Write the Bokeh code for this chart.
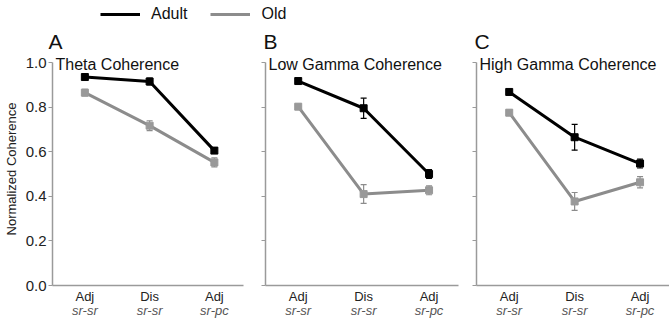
from bokeh.plotting import figure
from bokeh.models import (Range1d, LinearAxis, FixedTicker, PrintfTickFormatter,
                          Whisker, TeeHead, ColumnDataSource, Label, Legend)
from bokeh.layouts import column, row
from bokeh.embed import file_html
from bokeh.resources import INLINE

# ---------------- data ----------------
positions = [1, 2, 3]
cond_top = ["Adj", "Dis", "Adj"]
cond_bottom = ["sr-sr", "sr-sr", "sr-pc"]
panel_letters = ["A", "B", "C"]
panel_titles = ["Theta Coherence", "Low Gamma Coherence", "High Gamma Coherence"]
y_ticks = [0.0, 0.2, 0.4, 0.6, 0.8, 1.0]
series_names = ["Adult", "Old"]

adult_theta = [0.935, 0.915, 0.605]
adult_theta_err = [0.010, 0.015, 0.012]
old_theta = [0.865, 0.717, 0.552]
old_theta_err = [0.015, 0.022, 0.020]

adult_low = [0.917, 0.795, 0.500]
adult_low_err = [0.010, 0.045, 0.020]
old_low = [0.802, 0.410, 0.427]
old_low_err = [0.012, 0.042, 0.020]

adult_high = [0.868, 0.665, 0.547]
adult_high_err = [0.010, 0.058, 0.020]
old_high = [0.775, 0.377, 0.463]
old_high_err = [0.012, 0.040, 0.025]

FONT = "Liberation Sans"
ADULT = "#000000"
OLD = "#8c8c8c"
OLD_MARK = "#999999"
AXIS = "#9a9a9a"
Y_TOP = 1.045   # frame extends a little above 1.0 to hold the panel title
PANEL_W = [250, 210, 209]
PANEL_LEFT = [50, 15, 16]
PANEL_RIGHT = [7, 2, 0]
STRIP_H = 52


def series(p, xs, ys, errs, color, mark_color):
    src = ColumnDataSource(dict(x=xs, y=ys,
                                upper=[a + e for a, e in zip(ys, errs)],
                                lower=[a - e for a, e in zip(ys, errs)]))
    p.line("x", "y", source=src, line_color=color, line_width=3)
    p.scatter("x", "y", source=src, marker="square", size=7,
              fill_color=mark_color, line_color=mark_color)
    w = Whisker(base="x", upper="upper", lower="lower", source=src,
                line_color=color, line_width=1.2,
                upper_head=TeeHead(size=6, line_color=color, line_width=1.2),
                lower_head=TeeHead(size=6, line_color=color, line_width=1.2))
    p.add_layout(w)


def panel(i, adult, adult_err, old, old_err):
    p = figure(width=PANEL_W[i], height=320 - STRIP_H, x_range=Range1d(0.5, 3.45),
               y_range=Range1d(0, Y_TOP), output_backend="svg",
               toolbar_location=None, x_axis_type=None, y_axis_type=None,
               min_border_left=PANEL_LEFT[i], min_border_right=PANEL_RIGHT[i],
               min_border_top=0, min_border_bottom=35)
    p.outline_line_color = None

    if i == 0:
        yax = LinearAxis(ticker=FixedTicker(ticks=y_ticks),
                         formatter=PrintfTickFormatter(format="%.1f"))
    else:
        yax = LinearAxis(ticker=FixedTicker(ticks=y_ticks),
                         major_label_overrides={t: "" for t in y_ticks})
    yax.bounds = (0, 1.0)
    yax.axis_line_color = AXIS
    yax.axis_line_width = 1.5
    yax.major_tick_line_color = AXIS
    yax.major_tick_out = 4
    yax.major_tick_in = 0
    yax.minor_tick_line_color = None
    yax.major_label_text_font = FONT
    yax.major_label_text_color = "#222222"
    yax.major_label_text_font_size = "15px"
    yax.major_label_standoff = 2
    if i == 0:
        yax.axis_label = "Normalized Coherence"
        yax.axis_label_text_font = FONT
        yax.axis_label_text_font_size = "13px"
        yax.axis_label_text_font_style = "normal"
        yax.axis_label_text_color = "#222222"
        yax.axis_label_standoff = 4
    p.add_layout(yax, "left")

    xax1 = LinearAxis(ticker=FixedTicker(ticks=positions),
                      major_label_overrides={k: v for k, v in zip(positions, cond_top)})
    xax1.axis_line_color = AXIS
    xax1.axis_line_width = 1.5
    xax1.major_tick_line_color = None
    xax1.major_tick_out = 0
    xax1.major_tick_in = 0
    xax1.minor_tick_line_color = None
    xax1.major_label_text_font = FONT
    xax1.major_label_text_font_size = "13px"
    xax1.major_label_text_color = "#222222"
    xax1.major_label_standoff = 3
    p.add_layout(xax1, "below")

    xax2 = LinearAxis(ticker=FixedTicker(ticks=positions),
                      major_label_overrides={k: v for k, v in zip(positions, cond_bottom)})
    xax2.axis_line_color = None
    xax2.major_tick_line_color = None
    xax2.major_tick_out = 0
    xax2.major_tick_in = 0
    xax2.minor_tick_line_color = None
    xax2.major_label_text_font = FONT
    xax2.major_label_text_font_size = "13px"
    xax2.major_label_text_font_style = "italic"
    xax2.major_label_text_color = "#555555"
    xax2.major_label_standoff = -4
    p.add_layout(xax2, "below")

    series(p, positions, old, old_err, OLD, OLD_MARK)
    series(p, positions, adult, adult_err, ADULT, ADULT)

    p.add_layout(Label(x=0.5, y=1.0, x_offset=3, y_offset=-2,
                       text=panel_titles[i], text_font=FONT,
                       text_font_size="16px", text_color="#111111",
                       text_baseline="alphabetic"))
    return p


pA = panel(0, adult_theta, adult_theta_err, old_theta, old_theta_err)
pB = panel(1, adult_low, adult_low_err, old_low, old_low_err)
pC = panel(2, adult_high, adult_high_err, old_high, old_high_err)

# top strip: legend + panel letters (proxy renderers carry no visible data)
nan = float("nan")
lg = figure(width=669, height=STRIP_H, x_range=Range1d(0, 669), y_range=Range1d(0, STRIP_H),
            output_backend="svg", toolbar_location=None,
            x_axis_type=None, y_axis_type=None, min_border=0)
lg.outline_line_color = None
r1 = lg.line([nan, nan], [nan, nan], line_color=ADULT, line_width=3)
r2 = lg.line([nan, nan], [nan, nan], line_color=OLD, line_width=3)
legend = Legend(items=[(series_names[0], [r1]), (series_names[1], [r2])],
                orientation="horizontal",
                location=(100, STRIP_H - 24), glyph_width=40, glyph_height=20,
                label_standoff=11, spacing=23, padding=0, margin=0,
                border_line_color=None, background_fill_alpha=0,
                label_text_font=FONT, label_text_font_size="16px",
                label_text_color="#111111")
lg.add_layout(legend, "center")

# panel letters sit just above each panel's y axis
x0 = 0
for i, letter in enumerate(panel_letters):
    lg.add_layout(Label(x=x0 + PANEL_LEFT[i], y=11, x_units="screen", y_units="screen",
                        x_offset=-2, text=letter, text_font=FONT,
                        text_font_size="21px", text_color="#111111",
                        text_baseline="alphabetic"))
    x0 += PANEL_W[i]

layout = column(lg, row(pA, pB, pC))
open("out.html", "w").write(file_html(layout, INLINE))
